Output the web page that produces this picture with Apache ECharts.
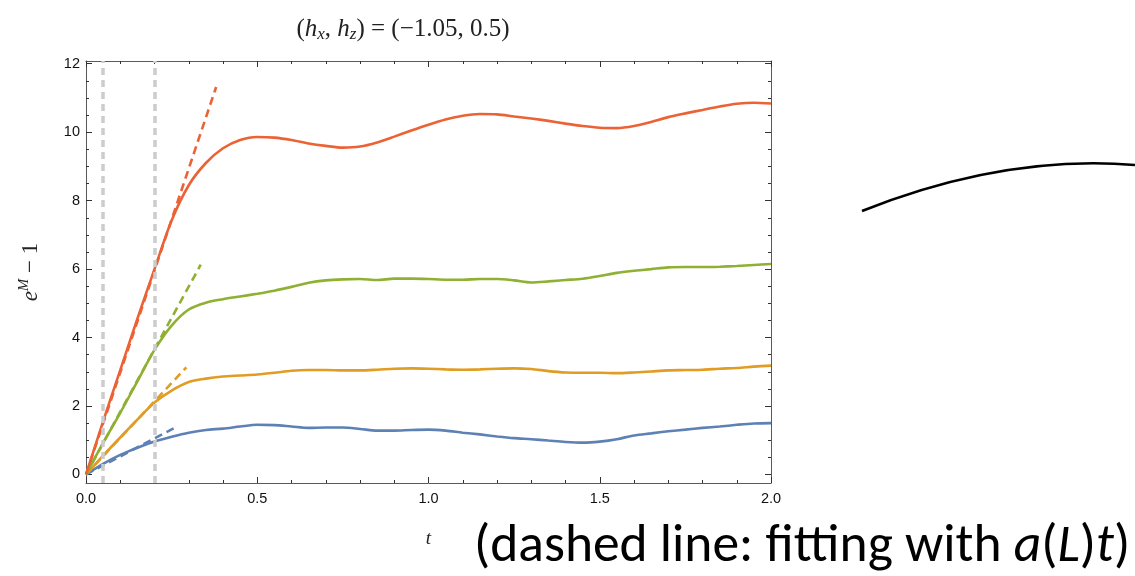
<!DOCTYPE html>
<html>
<head>
<meta charset="utf-8">
<script src="https://cdn.jsdelivr.net/npm/echarts@6/dist/echarts.min.js"></script>
<style>html,body{margin:0;padding:0;background:#fff;}#c{width:1135px;height:576px;}</style>
</head>
<body>
<div id="c"></div>
<script>
// ---- data ----
const tValues = [0,0.05,0.1,0.15,0.2,0.25,0.3,0.35,0.4,0.45,0.5,0.55,0.6,0.65,0.7,0.75,0.8,0.85,0.9,0.95,1.0,
  1.05,1.1,1.15,1.2,1.25,1.3,1.35,1.4,1.45,1.5,1.55,1.6,1.65,1.7,1.75,1.8,1.85,1.9,1.95,2.0];
const blueValues = [0,0.31,0.57,0.78,0.96,1.1,1.22,1.3,1.34,1.4,1.45,1.44,1.40,1.36,1.37,1.37,1.33,1.28,1.28,1.30,1.31,
  1.28,1.22,1.17,1.11,1.06,1.03,0.99,0.95,0.93,0.96,1.03,1.14,1.2,1.26,1.31,1.36,1.40,1.45,1.49,1.50];
const yellowValues = [0,0.55,1.08,1.6,2.1,2.45,2.7,2.8,2.86,2.89,2.92,2.97,3.03,3.05,3.05,3.04,3.04,3.06,3.09,3.10,3.09,
  3.07,3.06,3.07,3.09,3.10,3.08,3.02,2.98,2.97,2.97,2.96,2.98,3.01,3.04,3.05,3.06,3.09,3.11,3.15,3.18];
const greenValues = [0,0.92,1.8,2.72,3.64,4.35,4.82,5.02,5.12,5.2,5.28,5.37,5.48,5.6,5.67,5.7,5.71,5.68,5.72,5.72,5.71,
  5.69,5.69,5.71,5.71,5.67,5.61,5.64,5.68,5.72,5.8,5.89,5.95,6.0,6.05,6.06,6.06,6.07,6.09,6.12,6.15];
const redValues = [0,1.55,3.05,4.55,6.0,7.42,8.45,9.1,9.53,9.77,9.86,9.84,9.77,9.67,9.6,9.55,9.58,9.7,9.87,10.05,10.22,
  10.37,10.48,10.53,10.52,10.46,10.4,10.33,10.25,10.18,10.13,10.12,10.18,10.3,10.44,10.55,10.65,10.75,10.83,10.86,10.84];
// dashed fits a(L) t : end points [t, value]
const blueFitEnd = [0.262, 1.38];
const yellowFitEnd = [0.293, 3.13];
const greenFitEnd = [0.335, 6.13];
const redFitEnd = [0.38, 11.32];
// vertical reference lines
const refTimes = [0.05, 0.2];
// ticks
const xMajor = [0, 0.5, 1, 1.5, 2];
const xMinor = [0.1,0.2,0.3,0.4,0.6,0.7,0.8,0.9,1.1,1.2,1.3,1.4,1.6,1.7,1.8,1.9];
const yMajor = [0, 2, 4, 6, 8, 10, 12];
const yMinor = [0.5,1,1.5,2.5,3,3.5,4.5,5,5.5,6.5,7,7.5,8.5,9,9.5,10.5,11,11.5];

const colors = {blue:'#5E81B5', yellow:'#E19C24', green:'#8FB032', red:'#EB6235'};
const frameColor = '#5a5a5a';
const tickColor = '#333';
const labelFont = 'Liberation Sans, Arial, sans-serif';
const serif = 'Liberation Serif, DejaVu Serif, serif';
const noteFont = 'Carlito, Liberation Sans Narrow, Open Sans, sans-serif';

function pairs(vals){ return tValues.map((t,i)=>[t, vals[i]]); }

const Y_MIN = -0.25, Y_MAX = 12.08;

function xAx(pos, ticks, len, showLine, showLabel){
  return {type:'value', position:pos, min:0, max:2, interval:0.5,
    axisLine:{show:showLine, onZero:false, lineStyle:{color:frameColor, width:1}},
    axisTick:{show:true, inside:true, length:len, customValues:ticks, lineStyle:{color:tickColor, width:1}},
    axisLabel:{show:showLabel, customValues:xMajor, formatter:v=>v.toFixed(1), color:'#111', fontSize:14.5, fontFamily:labelFont, margin:8},
    splitLine:{show:false}};
}
function yAx(pos, ticks, len, showLine, showLabel){
  return {type:'value', position:pos, min:Y_MIN, max:Y_MAX,
    axisLine:{show:showLine, onZero:false, lineStyle:{color:frameColor, width:1}},
    axisTick:{show:true, inside:true, length:len, customValues:ticks, lineStyle:{color:tickColor, width:1}},
    axisLabel:{show:showLabel, customValues:yMajor, formatter:v=>String(Math.round(v)), color:'#111', fontSize:14.5, fontFamily:labelFont, margin:6},
    splitLine:{show:false}};
}

const xAxes = [xAx('bottom', xMajor, 6, true, true), xAx('bottom', xMinor, 3, false, false),
  xAx('top', xMajor, 6, true, false), xAx('top', xMinor, 3, false, false)];
xAxes[0].name = '{i|t}';
xAxes[0].nameLocation = 'middle';
xAxes[0].nameGap = 46;
xAxes[0].nameTextStyle = {rich:{i:{fontFamily:serif, fontStyle:'italic', fontSize:19, color:'#222'}}};

const yAxes = [yAx('left', yMajor, 6, true, true), yAx('left', yMinor, 3, false, false),
  yAx('right', yMajor, 6, true, false), yAx('right', yMinor, 3, false, false)];
yAxes[0].name = '{i|e}{s|M}{n| − 1}';
yAxes[0].nameLocation = 'middle';
yAxes[0].nameRotate = 90;
yAxes[0].nameGap = 42;
yAxes[0].nameTextStyle = {rich:{
  i:{fontFamily:serif, fontStyle:'italic', fontSize:23, color:'#222'},
  s:{fontFamily:serif, fontStyle:'italic', fontSize:15, color:'#222', padding:[0,0,12,0]},
  n:{fontFamily:serif, fontSize:23, color:'#222'}}};

function curve(name, vals, color){
  return {name, type:'line', xAxisIndex:0, yAxisIndex:0, data:pairs(vals), showSymbol:false, symbol:'none',
    smooth:0.3, lineStyle:{color, width:2.6}, z:3};
}
function fit(name, end, color){
  return {name, type:'line', xAxisIndex:0, yAxisIndex:0, data:[[0,0], end], showSymbol:false, symbol:'none',
    lineStyle:{color, width:2.6, type:[8,5]}, z:4};
}

const option = {
  animation:false,
  backgroundColor:'#fff',
  title:{text:'{n|(}{i|h}{s|x}{n|, }{i|h}{s|z}{n|) = (−1.05, 0.5)}', left:398, top:10, textAlign:'center',
    textStyle:{fontWeight:'normal', rich:{
      n:{fontFamily:serif, fontWeight:'normal', fontSize:25, color:'#222'},
      i:{fontFamily:serif, fontWeight:'normal', fontStyle:'italic', fontSize:25, color:'#222'},
      s:{fontFamily:serif, fontWeight:'normal', fontStyle:'italic', fontSize:17, color:'#222', padding:[11,0,0,0]}}}},
  grid:{left:86, right:364, top:61, bottom:93, containLabel:false},
  xAxis:xAxes,
  yAxis:yAxes,
  series:[
    {name:'ref', type:'line', xAxisIndex:0, yAxisIndex:0, data:[], z:1,
      markLine:{silent:true, symbol:['none','none'], label:{show:false},
        lineStyle:{color:'#cccccc', width:3.5, type:[7,5]},
        data:refTimes.map(t=>({xAxis:t}))}},
    curve('L1', blueValues, colors.blue),
    curve('L2', yellowValues, colors.yellow),
    curve('L3', greenValues, colors.green),
    curve('L4', redValues, colors.red),
    fit('fit1', blueFitEnd, colors.blue),
    fit('fit2', yellowFitEnd, colors.yellow),
    fit('fit3', greenFitEnd, colors.green),
    fit('fit4', redFitEnd, colors.red)
  ],
  graphic:[
    {type:'bezierCurve', shape:{x1:862, y1:211, cpx1:960, cpy1:172, cpx2:1050, cpy2:158, x2:1135, y2:165},
      style:{stroke:'#000', lineWidth:2.6, fill:null}},
    {type:'text', left:474, top:521,
      style:{text:'{n|(dashed line: fitting with }{i|a}{n|(}{i|L}{n|)}{i|t}{n|)}',
        rich:{n:{fontFamily:noteFont, fontSize:53.5, fill:'#000'},
              i:{fontFamily:noteFont, fontStyle:'italic', fontSize:53.5, fill:'#000'}}}}
  ]
};
const chart = echarts.init(document.getElementById('c'), null, {renderer:'canvas'});
chart.setOption(option);
</script>
</body>
</html>
